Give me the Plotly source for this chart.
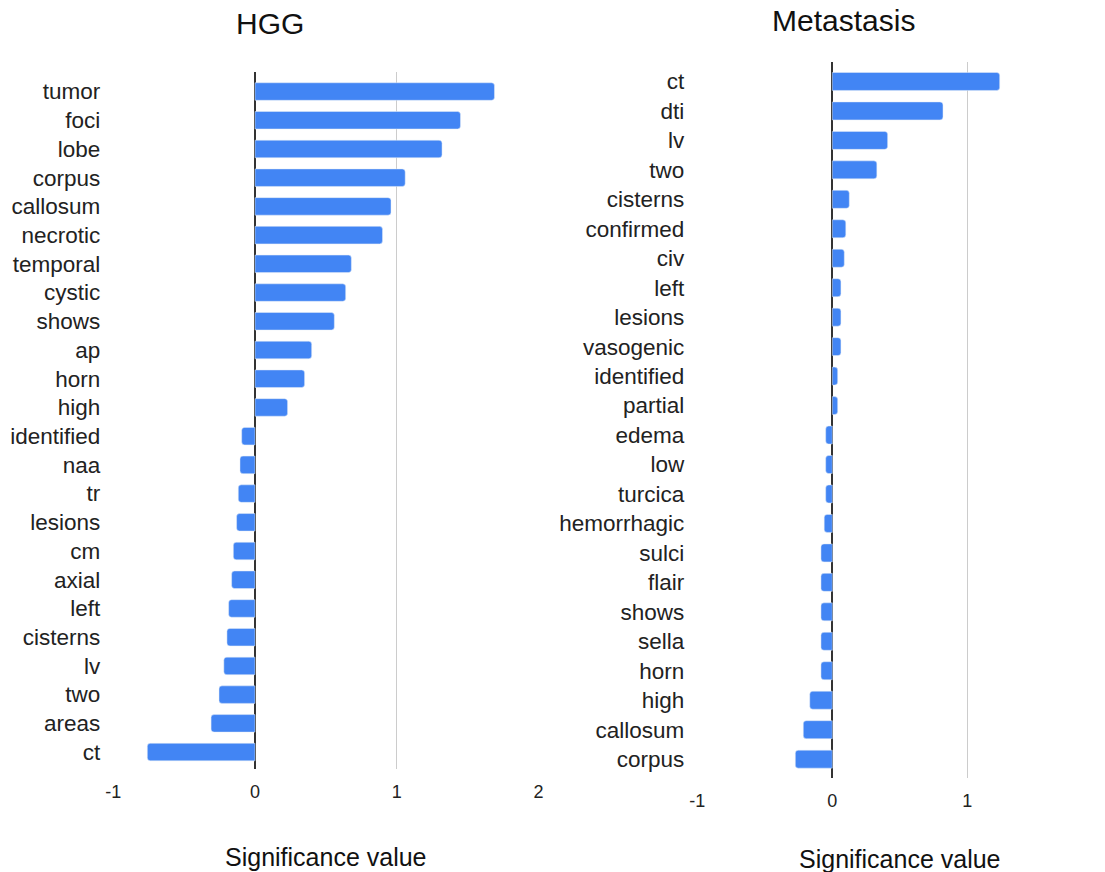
import plotly.graph_objects as go

hgg_terms = ["tumor", "foci", "lobe", "corpus", "callosum", "necrotic", "temporal", "cystic",
             "shows", "ap", "horn", "high", "identified", "naa", "tr", "lesions", "cm", "axial",
             "left", "cisterns", "lv", "two", "areas", "ct"]
hgg_values = [1.69, 1.45, 1.32, 1.06, 0.96, 0.90, 0.68, 0.64, 0.56, 0.40, 0.35, 0.23,
              -0.094, -0.106, -0.118, -0.13, -0.153, -0.165, -0.186, -0.198, -0.22, -0.254, -0.31, -0.76]

met_terms = ["ct", "dti", "lv", "two", "cisterns", "confirmed", "civ", "left", "lesions",
             "vasogenic", "identified", "partial", "edema", "low", "turcica", "hemorrhagic",
             "sulci", "flair", "shows", "sella", "horn", "high", "callosum", "corpus"]
met_values = [1.24, 0.82, 0.41, 0.33, 0.126, 0.10, 0.089, 0.064, 0.064, 0.064, 0.04, 0.04,
              -0.049, -0.049, -0.049, -0.06, -0.084, -0.084, -0.084, -0.084, -0.084, -0.167, -0.215, -0.274]

panel_titles = ["HGG", "Metastasis"]
x_title = "Significance value"
x_ticks = [-1, 0, 1, 2]
x_ticktext = ["-1", "0", "1", "2"]

BLUE = "#4285F4"
FONT = "Liberation Sans, Arial, sans-serif"
W, H = 1105, 872
OFF = 8  # default page body margin


def px(x):
    return (x - OFF) / W


def py(y):
    return 1 - (y - OFF) / H


fig = go.Figure()
fig.add_trace(go.Bar(x=hgg_values, y=hgg_terms, orientation="h", marker_color=BLUE,
                     xaxis="x", yaxis="y", showlegend=False))
fig.add_trace(go.Bar(x=met_values, y=met_terms, orientation="h", marker_color=BLUE,
                     xaxis="x2", yaxis="y2", showlegend=False))

xcommon = dict(range=[-1, 2], tickvals=x_ticks, ticktext=x_ticktext, automargin=False,
               showgrid=True, gridcolor="#cccccc", gridwidth=1,
               zeroline=True, zerolinecolor="#333333", zerolinewidth=1.5,
               showline=False, ticks="outside", ticklen=6, tickcolor="rgba(0,0,0,0)",
               tickfont=dict(size=18, color="#222222", family=FONT))
ycommon = dict(type="category", showgrid=False, showline=False, ticks="", automargin=False,
               ticklabelstandoff=12, tickfont=dict(size=22.5, color="#222222", family=FONT))

fig.update_layout(
    width=W, height=H,
    margin=dict(l=0, r=0, t=0, b=0),
    paper_bgcolor="white", plot_bgcolor="white",
    bargap=0.39, barcornerradius=3,
    font=dict(family=FONT, color="#222222"),
    xaxis=dict(domain=[px(113.3), px(538.4)], anchor="y", **xcommon),
    yaxis=dict(domain=[py(769), py(72)], anchor="x",
               categoryorder="array", categoryarray=hgg_terms,
               range=[23.59, -0.68], **ycommon),
    xaxis2=dict(domain=[px(697.3), px(1102.3)], anchor="y2", **xcommon),
    yaxis2=dict(domain=[py(778), py(62.3)], anchor="x2",
                categoryorder="array", categoryarray=met_terms,
                range=[23.64, -0.65], **ycommon),
    annotations=[
        dict(text=panel_titles[0], x=px(270), y=py(23), xref="paper", yref="paper",
             xanchor="center", yanchor="middle", showarrow=False,
             font=dict(size=30, color="#111111", family=FONT)),
        dict(text=panel_titles[1], x=px(843), y=py(20), xref="paper", yref="paper",
             xanchor="center", yanchor="middle", showarrow=False,
             font=dict(size=30, color="#111111", family=FONT)),
        dict(text=x_title, x=px(326), y=py(857), xref="paper", yref="paper",
             xanchor="center", yanchor="middle", showarrow=False,
             font=dict(size=25, color="#111111", family=FONT)),
        dict(text=x_title, x=px(900), y=py(859), xref="paper", yref="paper",
             xanchor="center", yanchor="middle", showarrow=False,
             font=dict(size=25, color="#111111", family=FONT)),
    ],
)

fig.write_html("out.html")
